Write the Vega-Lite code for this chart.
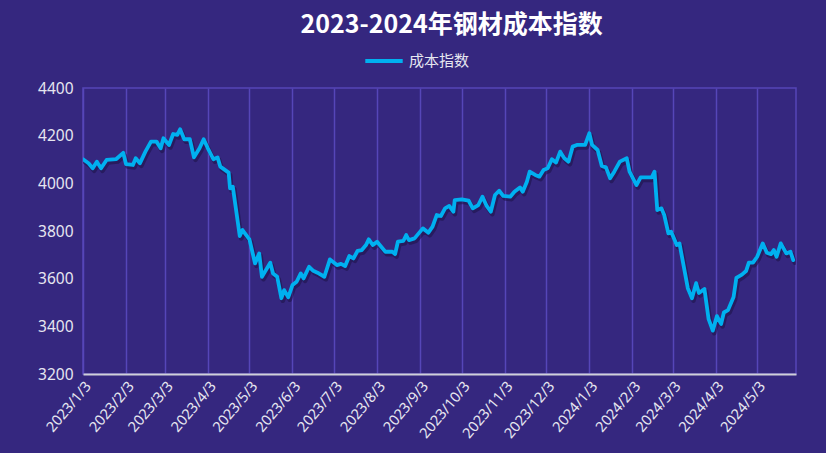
{
  "$schema": "https://vega.github.io/schema/vega-lite/v6.json",
  "width": 713,
  "height": 286,
  "autosize": {"type": "none"},
  "padding": {"left": 83, "top": 88, "right": 30, "bottom": 79},
  "background": "#35277f",
  "config": {
    "view": {"stroke": "#5646b8", "strokeWidth": 1.5},
    "font": "Noto Sans"
  },
  "title": {
    "text": "2023-2024年钢材成本指数",
    "font": "Noto Sans CJK SC",
    "fontSize": 25,
    "fontWeight": "bold",
    "color": "#ffffff",
    "anchor": "middle",
    "frame": "group",
    "dx": 12,
    "offset": 2
  },
  "data": {
    "values": [
      {"date": "2023/01/03", "value": 4101, "series": "成本指数"},
      {"date": "2023/01/07", "value": 4084, "series": "成本指数"},
      {"date": "2023/01/10", "value": 4063, "series": "成本指数"},
      {"date": "2023/01/13", "value": 4091, "series": "成本指数"},
      {"date": "2023/01/16", "value": 4063, "series": "成本指数"},
      {"date": "2023/01/20", "value": 4098, "series": "成本指数"},
      {"date": "2023/01/27", "value": 4102, "series": "成本指数"},
      {"date": "2023/02/01", "value": 4128, "series": "成本指数"},
      {"date": "2023/02/03", "value": 4081, "series": "成本指数"},
      {"date": "2023/02/08", "value": 4077, "series": "成本指数"},
      {"date": "2023/02/10", "value": 4105, "series": "成本指数"},
      {"date": "2023/02/13", "value": 4084, "series": "成本指数"},
      {"date": "2023/02/17", "value": 4133, "series": "成本指数"},
      {"date": "2023/02/21", "value": 4175, "series": "成本指数"},
      {"date": "2023/02/25", "value": 4175, "series": "成本指数"},
      {"date": "2023/02/28", "value": 4147, "series": "成本指数"},
      {"date": "2023/03/02", "value": 4189, "series": "成本指数"},
      {"date": "2023/03/06", "value": 4161, "series": "成本指数"},
      {"date": "2023/03/09", "value": 4207, "series": "成本指数"},
      {"date": "2023/03/12", "value": 4203, "series": "成本指数"},
      {"date": "2023/03/14", "value": 4227, "series": "成本指数"},
      {"date": "2023/03/17", "value": 4185, "series": "成本指数"},
      {"date": "2023/03/21", "value": 4185, "series": "成本指数"},
      {"date": "2023/03/24", "value": 4109, "series": "成本指数"},
      {"date": "2023/03/28", "value": 4147, "series": "成本指数"},
      {"date": "2023/03/31", "value": 4185, "series": "成本指数"},
      {"date": "2023/04/03", "value": 4147, "series": "成本指数"},
      {"date": "2023/04/07", "value": 4101, "series": "成本指数"},
      {"date": "2023/04/10", "value": 4109, "series": "成本指数"},
      {"date": "2023/04/12", "value": 4070, "series": "成本指数"},
      {"date": "2023/04/18", "value": 4045, "series": "成本指数"},
      {"date": "2023/04/19", "value": 3979, "series": "成本指数"},
      {"date": "2023/04/21", "value": 3986, "series": "成本指数"},
      {"date": "2023/04/26", "value": 3779, "series": "成本指数"},
      {"date": "2023/04/28", "value": 3804, "series": "成本指数"},
      {"date": "2023/05/03", "value": 3765, "series": "成本指数"},
      {"date": "2023/05/07", "value": 3664, "series": "成本指数"},
      {"date": "2023/05/10", "value": 3706, "series": "成本指数"},
      {"date": "2023/05/12", "value": 3608, "series": "成本指数"},
      {"date": "2023/05/18", "value": 3667, "series": "成本指数"},
      {"date": "2023/05/20", "value": 3622, "series": "成本指数"},
      {"date": "2023/05/23", "value": 3608, "series": "成本指数"},
      {"date": "2023/05/26", "value": 3518, "series": "成本指数"},
      {"date": "2023/05/28", "value": 3552, "series": "成本指数"},
      {"date": "2023/05/31", "value": 3522, "series": "成本指数"},
      {"date": "2023/06/03", "value": 3573, "series": "成本指数"},
      {"date": "2023/06/06", "value": 3587, "series": "成本指数"},
      {"date": "2023/06/09", "value": 3622, "series": "成本指数"},
      {"date": "2023/06/11", "value": 3601, "series": "成本指数"},
      {"date": "2023/06/15", "value": 3650, "series": "成本指数"},
      {"date": "2023/06/18", "value": 3633, "series": "成本指数"},
      {"date": "2023/06/21", "value": 3625, "series": "成本指数"},
      {"date": "2023/06/26", "value": 3608, "series": "成本指数"},
      {"date": "2023/06/30", "value": 3681, "series": "成本指数"},
      {"date": "2023/07/05", "value": 3657, "series": "成本指数"},
      {"date": "2023/07/08", "value": 3662, "series": "成本指数"},
      {"date": "2023/07/11", "value": 3653, "series": "成本指数"},
      {"date": "2023/07/14", "value": 3695, "series": "成本指数"},
      {"date": "2023/07/17", "value": 3685, "series": "成本指数"},
      {"date": "2023/07/20", "value": 3717, "series": "成本指数"},
      {"date": "2023/07/23", "value": 3720, "series": "成本指数"},
      {"date": "2023/07/26", "value": 3741, "series": "成本指数"},
      {"date": "2023/07/28", "value": 3765, "series": "成本指数"},
      {"date": "2023/07/31", "value": 3741, "series": "成本指数"},
      {"date": "2023/08/03", "value": 3755, "series": "成本指数"},
      {"date": "2023/08/09", "value": 3713, "series": "成本指数"},
      {"date": "2023/08/14", "value": 3713, "series": "成本指数"},
      {"date": "2023/08/16", "value": 3703, "series": "成本指数"},
      {"date": "2023/08/18", "value": 3755, "series": "成本指数"},
      {"date": "2023/08/22", "value": 3759, "series": "成本指数"},
      {"date": "2023/08/24", "value": 3783, "series": "成本指数"},
      {"date": "2023/08/26", "value": 3762, "series": "成本指数"},
      {"date": "2023/08/30", "value": 3769, "series": "成本指数"},
      {"date": "2023/09/05", "value": 3811, "series": "成本指数"},
      {"date": "2023/09/09", "value": 3793, "series": "成本指数"},
      {"date": "2023/09/12", "value": 3818, "series": "成本指数"},
      {"date": "2023/09/15", "value": 3867, "series": "成本指数"},
      {"date": "2023/09/18", "value": 3863, "series": "成本指数"},
      {"date": "2023/09/21", "value": 3895, "series": "成本指数"},
      {"date": "2023/09/24", "value": 3905, "series": "成本指数"},
      {"date": "2023/09/27", "value": 3881, "series": "成本指数"},
      {"date": "2023/09/28", "value": 3930, "series": "成本指数"},
      {"date": "2023/10/03", "value": 3933, "series": "成本指数"},
      {"date": "2023/10/08", "value": 3927, "series": "成本指数"},
      {"date": "2023/10/11", "value": 3895, "series": "成本指数"},
      {"date": "2023/10/15", "value": 3909, "series": "成本指数"},
      {"date": "2023/10/18", "value": 3944, "series": "成本指数"},
      {"date": "2023/10/21", "value": 3905, "series": "成本指数"},
      {"date": "2023/10/24", "value": 3881, "series": "成本指数"},
      {"date": "2023/10/27", "value": 3951, "series": "成本指数"},
      {"date": "2023/10/30", "value": 3969, "series": "成本指数"},
      {"date": "2023/11/02", "value": 3947, "series": "成本指数"},
      {"date": "2023/11/07", "value": 3944, "series": "成本指数"},
      {"date": "2023/11/10", "value": 3965, "series": "成本指数"},
      {"date": "2023/11/14", "value": 3983, "series": "成本指数"},
      {"date": "2023/11/16", "value": 3965, "series": "成本指数"},
      {"date": "2023/11/19", "value": 4007, "series": "成本指数"},
      {"date": "2023/11/21", "value": 4049, "series": "成本指数"},
      {"date": "2023/11/25", "value": 4035, "series": "成本指数"},
      {"date": "2023/11/28", "value": 4028, "series": "成本指数"},
      {"date": "2023/12/01", "value": 4056, "series": "成本指数"},
      {"date": "2023/12/04", "value": 4063, "series": "成本指数"},
      {"date": "2023/12/07", "value": 4101, "series": "成本指数"},
      {"date": "2023/12/10", "value": 4087, "series": "成本指数"},
      {"date": "2023/12/13", "value": 4133, "series": "成本指数"},
      {"date": "2023/12/16", "value": 4105, "series": "成本指数"},
      {"date": "2023/12/19", "value": 4091, "series": "成本指数"},
      {"date": "2023/12/22", "value": 4154, "series": "成本指数"},
      {"date": "2023/12/25", "value": 4161, "series": "成本指数"},
      {"date": "2023/12/31", "value": 4161, "series": "成本指数"},
      {"date": "2024/01/03", "value": 4210, "series": "成本指数"},
      {"date": "2024/01/05", "value": 4161, "series": "成本指数"},
      {"date": "2024/01/09", "value": 4140, "series": "成本指数"},
      {"date": "2024/01/12", "value": 4073, "series": "成本指数"},
      {"date": "2024/01/15", "value": 4067, "series": "成本指数"},
      {"date": "2024/01/18", "value": 4021, "series": "成本指数"},
      {"date": "2024/01/21", "value": 4049, "series": "成本指数"},
      {"date": "2024/01/25", "value": 4091, "series": "成本指数"},
      {"date": "2024/01/30", "value": 4105, "series": "成本指数"},
      {"date": "2024/02/01", "value": 4049, "series": "成本指数"},
      {"date": "2024/02/06", "value": 3993, "series": "成本指数"},
      {"date": "2024/02/09", "value": 4025, "series": "成本指数"},
      {"date": "2024/02/17", "value": 4025, "series": "成本指数"},
      {"date": "2024/02/19", "value": 4049, "series": "成本指数"},
      {"date": "2024/02/21", "value": 3888, "series": "成本指数"},
      {"date": "2024/02/24", "value": 3895, "series": "成本指数"},
      {"date": "2024/02/26", "value": 3867, "series": "成本指数"},
      {"date": "2024/02/29", "value": 3790, "series": "成本指数"},
      {"date": "2024/03/02", "value": 3797, "series": "成本指数"},
      {"date": "2024/03/06", "value": 3741, "series": "成本指数"},
      {"date": "2024/03/08", "value": 3748, "series": "成本指数"},
      {"date": "2024/03/10", "value": 3685, "series": "成本指数"},
      {"date": "2024/03/14", "value": 3560, "series": "成本指数"},
      {"date": "2024/03/17", "value": 3518, "series": "成本指数"},
      {"date": "2024/03/20", "value": 3581, "series": "成本指数"},
      {"date": "2024/03/22", "value": 3540, "series": "成本指数"},
      {"date": "2024/03/26", "value": 3557, "series": "成本指数"},
      {"date": "2024/03/29", "value": 3430, "series": "成本指数"},
      {"date": "2024/04/01", "value": 3382, "series": "成本指数"},
      {"date": "2024/04/04", "value": 3443, "series": "成本指数"},
      {"date": "2024/04/07", "value": 3410, "series": "成本指数"},
      {"date": "2024/04/09", "value": 3458, "series": "成本指数"},
      {"date": "2024/04/12", "value": 3468, "series": "成本指数"},
      {"date": "2024/04/16", "value": 3523, "series": "成本指数"},
      {"date": "2024/04/18", "value": 3603, "series": "成本指数"},
      {"date": "2024/04/22", "value": 3617, "series": "成本指数"},
      {"date": "2024/04/25", "value": 3632, "series": "成本指数"},
      {"date": "2024/04/27", "value": 3667, "series": "成本指数"},
      {"date": "2024/04/30", "value": 3667, "series": "成本指数"},
      {"date": "2024/05/03", "value": 3692, "series": "成本指数"},
      {"date": "2024/05/07", "value": 3748, "series": "成本指数"},
      {"date": "2024/05/10", "value": 3709, "series": "成本指数"},
      {"date": "2024/05/13", "value": 3703, "series": "成本指数"},
      {"date": "2024/05/15", "value": 3720, "series": "成本指数"},
      {"date": "2024/05/17", "value": 3692, "series": "成本指数"},
      {"date": "2024/05/20", "value": 3748, "series": "成本指数"},
      {"date": "2024/05/24", "value": 3706, "series": "成本指数"},
      {"date": "2024/05/27", "value": 3713, "series": "成本指数"},
      {"date": "2024/05/29", "value": 3678, "series": "成本指数"}
    ]
  },
  "encoding": {
    "x": {
      "field": "date",
      "type": "temporal",
      "scale": {"type": "time", "domain": [{"year": 2023, "month": 1, "date": 3}, {"year": 2024, "month": 5, "date": 31}], "nice": false},
      "axis": {
        "title": null,
        "values": [
          {"year": 2023, "month": 1, "date": 3}, {"year": 2023, "month": 2, "date": 3}, {"year": 2023, "month": 3, "date": 3},
          {"year": 2023, "month": 4, "date": 3}, {"year": 2023, "month": 5, "date": 3}, {"year": 2023, "month": 6, "date": 3},
          {"year": 2023, "month": 7, "date": 3}, {"year": 2023, "month": 8, "date": 3}, {"year": 2023, "month": 9, "date": 3},
          {"year": 2023, "month": 10, "date": 3}, {"year": 2023, "month": 11, "date": 3}, {"year": 2023, "month": 12, "date": 3},
          {"year": 2024, "month": 1, "date": 3}, {"year": 2024, "month": 2, "date": 3}, {"year": 2024, "month": 3, "date": 3},
          {"year": 2024, "month": 4, "date": 3}, {"year": 2024, "month": 5, "date": 3}
        ],
        "format": "%Y/%-m/%-d",
        "labelAngle": -50,
        "labelAlign": "right",
        "labelBaseline": "top",
        "labelColor": "#e6e6f0",
        "labelFontSize": 14.5,
        "labelPadding": 5,
        "labelOverlap": false,
        "labelFlush": false,
        "ticks": false,
        "domainColor": "#d0d0d8",
        "domainWidth": 2,
        "grid": true,
        "gridColor": "#5646b8",
        "gridWidth": 1.5
      }
    },
    "y": {
      "field": "value",
      "type": "quantitative",
      "scale": {"domain": [3200, 4400], "nice": false, "zero": false},
      "axis": {
        "title": null,
        "values": [3200, 3400, 3600, 3800, 4000, 4200, 4400],
        "format": "d",
        "grid": false,
        "domain": false,
        "ticks": false,
        "labelColor": "#e6e6f0",
        "labelFontSize": 15.5,
        "labelPadding": 10
      }
    }
  },
  "layer": [
    {
      "mark": {"type": "line", "strokeWidth": 4.5, "strokeJoin": "round", "strokeCap": "round", "clip": true, "color": "#1c1245", "opacity": 0.55, "xOffset": 1.5, "yOffset": 2.5}
    },
    {
      "mark": {"type": "line", "strokeWidth": 3.8, "strokeJoin": "round", "strokeCap": "round", "clip": true},
      "encoding": {
        "color": {
          "field": "series",
          "type": "nominal",
          "scale": {"range": ["#00b0f0"]},
          "legend": {
            "title": null,
            "orient": "none",
            "legendX": 280,
            "legendY": -48,
            "symbolType": "stroke",
            "symbolStrokeWidth": 4,
            "symbolSize": 1400,
            "labelColor": "#e6e6f0",
            "labelFontSize": 15,
            "labelFont": "Noto Sans CJK SC",
            "labelOffset": 4
          }
        }
      }
    }
  ]
}
